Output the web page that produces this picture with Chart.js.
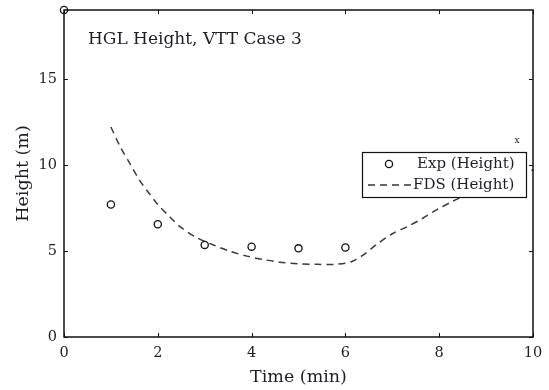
<!DOCTYPE html>
<html>
<head>
<meta charset="utf-8">
<script src="https://cdn.jsdelivr.net/npm/chart.js@4.4.0/dist/chart.umd.min.js"></script>
<style>
	html, body { margin: 0; padding: 0; background: #fff; }
	#wrap { width: 549px; height: 390px; }
</style>
</head>
<body>
<div id="wrap"><canvas id="hgl"></canvas></div>
<script>
// experiment points (min, m)
var expTime = [0, 1, 2, 3, 4, 5, 6]
var expHeight = [19.0, 7.7, 6.55, 5.35, 5.25, 5.15, 5.2]

// FDS prediction
var fdsTime = [1.0, 1.2, 1.4, 1.6, 1.8, 2.0, 2.25, 2.5, 2.85, 3.2, 3.55, 3.9, 4.25, 4.6, 5.0, 5.4, 5.75, 6.0, 6.15, 6.4, 6.65, 7.0, 7.35, 7.65, 7.95, 8.3, 8.7, 9.1, 9.5, 10.0]
var fdsHeight = [12.2, 11.05, 10.1, 9.15, 8.4, 7.7, 7.0, 6.35, 5.75, 5.33, 4.97, 4.7, 4.5, 4.35, 4.25, 4.22, 4.22, 4.28, 4.4, 4.8, 5.35, 6.0, 6.45, 6.9, 7.4, 7.9, 8.4, 8.9, 9.25, 9.7]

var xTicks = [0, 2, 4, 6, 8, 10]
var yTicks = [0, 5, 10, 15]

var plotTitle = 'HGL Height, VTT Case 3'
var expLabel = 'Exp (Height)'
var fdsLabel = 'FDS (Height)'

var serif = '"DejaVu Serif", "Liberation Serif", serif'
var ink = '#1e1e28'

function toPoints(xs, ys) {
	return xs.map(function(x, i) { return { x: x, y: ys[i] } })
}

// frame, inward ticks, title, legend box
var matlabLook = {
	id: 'matlabLook',
	afterDatasetsDraw: function(chart) {
		var ctx = chart.ctx
		var a = chart.chartArea
		var xs = chart.scales.x
		var ys = chart.scales.y
		ctx.save()
		ctx.strokeStyle = '#111'
		ctx.lineWidth = 1.5
		ctx.strokeRect(a.left, a.top, a.right - a.left, a.bottom - a.top)
		ctx.lineWidth = 1
		ctx.beginPath()
		xTicks.forEach(function(v) {
			var px = Math.round(xs.getPixelForValue(v)) + 0.5
			ctx.moveTo(px, a.bottom); ctx.lineTo(px, a.bottom - 4)
			ctx.moveTo(px, a.top); ctx.lineTo(px, a.top + 4)
		})
		yTicks.forEach(function(v) {
			var py = Math.round(ys.getPixelForValue(v)) + 0.5
			ctx.moveTo(a.left, py); ctx.lineTo(a.left + 4, py)
			ctx.moveTo(a.right, py); ctx.lineTo(a.right - 4, py)
		})
		ctx.stroke()

		// title inside the axes
		ctx.fillStyle = ink
		ctx.font = '17px ' + serif
		ctx.textBaseline = 'middle'
		ctx.textAlign = 'left'
		ctx.fillText(plotTitle, a.left + 24, a.top + 30)

		// stray x mark
		ctx.font = '9px ' + serif
		ctx.textAlign = 'center'
		ctx.fillText('x', a.right - 16, a.top + 131)

		// legend
		var bx = a.right - 171, by = a.top + 142, bw = 164, bh = 45
		ctx.fillStyle = '#fff'
		ctx.fillRect(bx, by, bw, bh)
		ctx.strokeStyle = '#111'
		ctx.lineWidth = 1.2
		ctx.strokeRect(bx + 0.5, by + 0.5, bw, bh)

		ctx.lineWidth = 1.3
		ctx.beginPath()
		ctx.arc(bx + 27, by + 12, 3.6, 0, Math.PI * 2)
		ctx.stroke()

		ctx.strokeStyle = '#333'
		ctx.lineWidth = 1.5
		ctx.setLineDash([7, 5])
		ctx.beginPath()
		ctx.moveTo(bx + 6, by + 33); ctx.lineTo(bx + 52, by + 33)
		ctx.stroke()
		ctx.setLineDash([])

		ctx.fillStyle = ink
		ctx.font = '15px ' + serif
		ctx.textAlign = 'left'
		ctx.fillText(expLabel, bx + 55, by + 12)
		ctx.fillText(fdsLabel, bx + 51, by + 33)
		ctx.restore()
	}
}

var context = document.getElementById('hgl').getContext('2d')
var chart = new Chart(context, {
	type: 'scatter',
	data: {
		datasets: [{
			label: expLabel,
			data: toPoints(expTime, expHeight),
			showLine: false,
			pointStyle: 'circle',
			pointRadius: 3.6,
			pointBorderWidth: 1.3,
			pointBorderColor: '#111',
			pointBackgroundColor: 'rgba(0,0,0,0)',
			clip: false
		}, {
			label: fdsLabel,
			data: toPoints(fdsTime, fdsHeight),
			showLine: true,
			pointRadius: 0,
			borderColor: '#3a3a3a',
			borderWidth: 1.5,
			borderDash: [7, 5],
			tension: 0.3
		}]
	},
	plugins: [matlabLook],
	options: {
		responsive: true,
		maintainAspectRatio: false,
		animation: false,
		layout: { padding: { left: 0, right: 16, top: 10, bottom: 0 } },
		plugins: {
			legend: { display: false },
			tooltip: { enabled: false }
		},
		scales: {
			x: {
				type: 'linear',
				min: 0,
				max: 10,
				afterBuildTicks: function(s) { s.ticks = xTicks.map(function(v) { return { value: v } }) },
				afterFit: function(s) { s.height = 53; s.paddingLeft = 0; s.paddingRight = 0 },
				grid: { display: false, drawTicks: false },
				border: { display: false },
				ticks: { color: ink, font: { family: serif, size: 14.5 }, padding: 8 },
				title: { display: true, text: 'Time (min)', color: ink, font: { family: serif, size: 17.5 }, padding: { top: 0, bottom: 2 } }
			},
			y: {
				type: 'linear',
				min: 0,
				max: 19,
				afterBuildTicks: function(s) { s.ticks = yTicks.map(function(v) { return { value: v } }) },
				afterFit: function(s) { s.width = 64; s.paddingTop = 0; s.paddingBottom = 0 },
				grid: { display: false, drawTicks: false },
				border: { display: false },
				ticks: { color: ink, font: { family: serif, size: 14.5 }, padding: 7 },
				title: { display: true, text: 'Height (m)', color: ink, font: { family: serif, size: 17.5 }, padding: { top: 13, bottom: 4 } }
			}
		}
	}
})
</script>
</body>
</html>
